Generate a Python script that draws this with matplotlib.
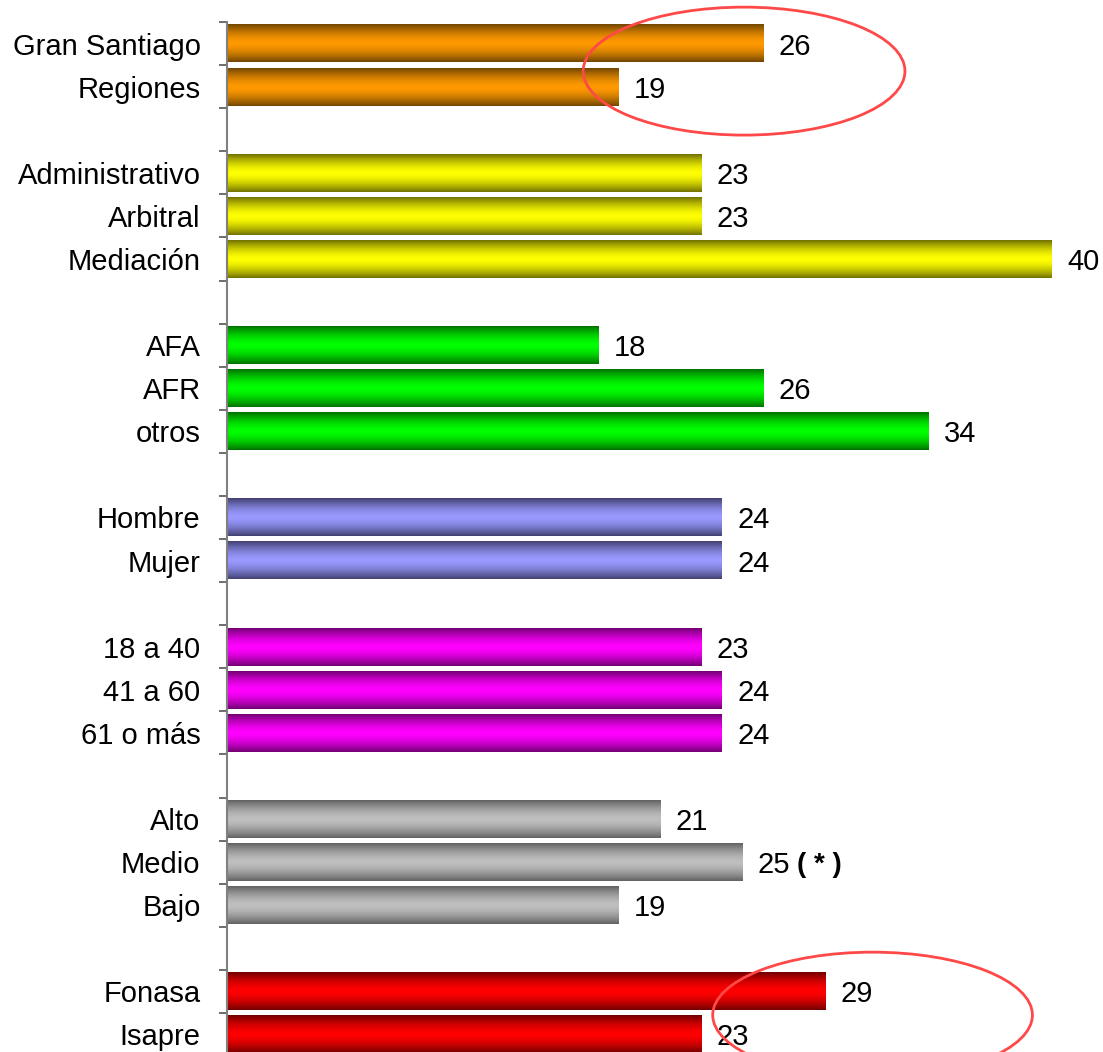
import numpy as np
import matplotlib.pyplot as plt
from matplotlib.patches import Ellipse

plt.rcParams['font.family'] = ['Liberation Sans', 'DejaVu Sans']

# Grupos de categorías (de arriba hacia abajo)
zona = ['Gran Santiago', 'Regiones']
zona_val = [26, 19]
tipo = ['Administrativo', 'Arbitral', 'Mediación']
tipo_val = [23, 23, 40]
cotizacion = ['AFA', 'AFR', 'otros']
cotizacion_val = [18, 26, 34]
sexo = ['Hombre', 'Mujer']
sexo_val = [24, 24]
edad = ['18 a 40', '41 a 60', '61 o más']
edad_val = [23, 24, 24]
nse = ['Alto', 'Medio', 'Bajo']
nse_val = [21, 25, 19]
salud = ['Fonasa', 'Isapre']
salud_val = [29, 23]

# color del borde (oscuro) y del centro (claro) del degradado
colores = [
    ((0.44, 0.27, 0.0), (1.0, 0.60, 0.0)),
    ((0.44, 0.44, 0.0), (1.0, 1.0, 0.0)),
    ((0.0, 0.44, 0.0), (0.0, 1.0, 0.0)),
    ((0.25, 0.25, 0.44), (0.60, 0.60, 1.0)),
    ((0.44, 0.0, 0.44), (1.0, 0.0, 1.0)),
    ((0.38, 0.38, 0.38), (0.75, 0.75, 0.75)),
    ((0.44, 0.0, 0.0), (1.0, 0.0, 0.0)),
]

grupos = [(zona, zona_val), (tipo, tipo_val), (cotizacion, cotizacion_val),
          (sexo, sexo_val), (edad, edad_val), (nse, nse_val), (salud, salud_val)]

etiquetas, valores, pos, col = [], [], [], []
y = 0
for g, (labs, vals) in enumerate(grupos):
    if g > 0:
        y += 1  # espacio entre grupos
    for lab, v in zip(labs, vals):
        etiquetas.append(lab)
        valores.append(v)
        pos.append(y)
        col.append(colores[g])
        y += 1
n_slots = y  # 24 posiciones

fig = plt.figure(figsize=(11.03, 10.52), dpi=100)
ax = fig.add_axes([227 / 1103, -4 / 1052, (1052 - 227) / 1103, 1034 / 1052])

alto = 0.88
bars = ax.barh(pos, valores, height=alto, color='none', edgecolor='none')

# degradado vertical: oscuro en los bordes, claro al centro
t = np.linspace(-1, 1, 200)
w = np.clip(np.abs(t) ** 1.6, 0, 1)[:, None]
for b, (c_borde, c_centro) in zip(bars, col):
    c0 = np.array(c_centro)[None, :]
    c1 = np.array(c_borde)[None, :]
    img = (c0 * (1 - w) + c1 * w)[:, None, :]
    x0, y0 = b.get_x(), b.get_y()
    ax.imshow(img, extent=[x0, x0 + b.get_width(), y0 + b.get_height(), y0],
              aspect='auto', interpolation='bilinear', zorder=2)

for p, v in zip(pos, valores):
    ax.annotate(str(v), (v, p), xytext=(11, 0), textcoords='offset points',
                ha='left', va='center_baseline', fontsize=21, color='black')

# marca junto al valor de "Medio"
i_medio = etiquetas.index('Medio')
ax.annotate('( * )', (valores[i_medio], pos[i_medio]), xytext=(39, 0),
            textcoords='offset points', ha='left', va='center_baseline',
            fontsize=20, fontweight='bold', color='black')

ax.set_xlim(0, 40)
ax.set_ylim(n_slots - 0.5, -0.5)

ax.set_yticks(pos)
ax.set_yticklabels(etiquetas, fontsize=21)
ax.set_yticks(np.arange(-0.5, n_slots, 1.0), minor=True)
ax.tick_params(axis='y', which='major', length=0, pad=19)
ax.tick_params(axis='y', which='minor', length=6, width=1.2, color='#555555',
               direction='out')
ax.set_xticks([])
for s in ['top', 'right', 'bottom']:
    ax.spines[s].set_visible(False)
ax.spines['left'].set_color('#808080')
ax.spines['left'].set_linewidth(1.5)

# óvalos rojos resaltando grupos
ax.add_patch(Ellipse((25.07, 0.64), 15.6, 2.97, fill=False, edgecolor='#ff4848',
                     linewidth=2, clip_on=False, zorder=5))
ax.add_patch(Ellipse((31.3, 22.55), 15.5, 2.92, fill=False, edgecolor='#ff4848',
                     linewidth=2, clip_on=False, zorder=5))

fig.savefig('out.png', dpi=100)
